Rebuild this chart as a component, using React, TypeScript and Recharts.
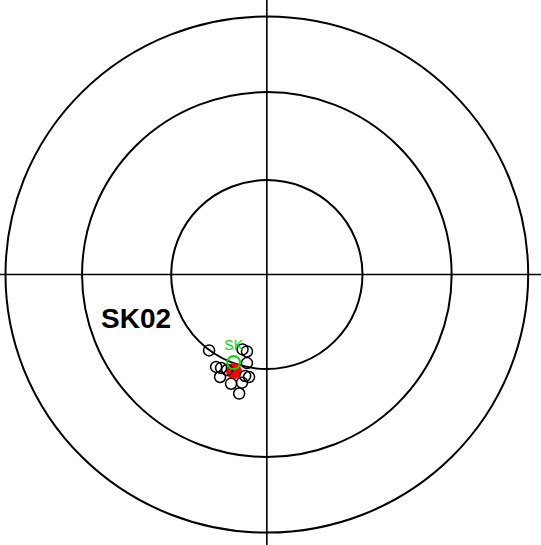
import React from "react";
import { ScatterChart, Scatter, XAxis, YAxis, ReferenceLine, ReferenceDot } from "recharts";

const W = 541;
const H = 545;
const X_DOMAIN: [number, number] = [-1.021, 1.049];
const Y_DOMAIN: [number, number] = [-1.048, 1.064];

// small circles of the net, by inclination (deg)
const gridInclinations = [60, 30, 0];

// specimen directions, equal-area coords (x east, y north, primitive = 1)
const specimenX = [-0.221, -0.093, -0.076, -0.076, -0.194, -0.175, -0.152, -0.179, -0.083, -0.068, -0.137, -0.095, -0.106];
const specimenY = [-0.294, -0.29, -0.298, -0.343, -0.358, -0.362, -0.37, -0.397, -0.393, -0.397, -0.423, -0.419, -0.461];

// site mean and reference direction
const meanX = [-0.126];
const meanY = [-0.374];
const refX = [-0.127];
const refY = [-0.341];
const refLabel = "SK";

const siteName = "SK02";
const siteLabelX = -0.6345;
const siteLabelY = -0.209;

const kx = W / (X_DOMAIN[1] - X_DOMAIN[0]);
const ky = H / (Y_DOMAIN[1] - Y_DOMAIN[0]);

// Lambert equal-area radius for an inclination
const eqArea = (inc: number) => Math.SQRT2 * Math.sin(((90 - inc) / 2) * (Math.PI / 180));

const specimens = specimenX.map((x, i) => ({ x, y: specimenY[i] }));
const mean = meanX.map((x, i) => ({ x, y: meanY[i] }));
const ref = refX.map((x, i) => ({ x, y: refY[i] }));

export default function App() {
  return (
    <div style={{ position: "absolute", left: 0, top: 0, width: W, height: H, background: "#fff" }}>
      <ScatterChart width={W} height={H} margin={{ top: 0, right: 0, bottom: 0, left: 0 }}>
        <XAxis type="number" dataKey="x" domain={X_DOMAIN} allowDataOverflow hide />
        <YAxis type="number" dataKey="y" domain={Y_DOMAIN} allowDataOverflow hide />
        {gridInclinations.map((inc) => (
          <ReferenceDot
            key={inc}
            x={0}
            y={0}
            shape={(p: any) => (
              <ellipse
                cx={p.cx}
                cy={p.cy}
                rx={eqArea(inc) * kx}
                ry={eqArea(inc) * ky}
                fill="none"
                stroke="#000"
                strokeWidth={2}
              />
            )}
          />
        ))}
        <ReferenceLine x={0} stroke="#000" strokeWidth={1.6} />
        <ReferenceLine y={0} stroke="#000" strokeWidth={1.6} />
        <ReferenceDot
          x={siteLabelX}
          y={siteLabelY}
          shape={(p: any) => (
            <text
              x={p.cx}
              y={p.cy}
              fontFamily="Liberation Sans, Arial, sans-serif"
              fontWeight="bold"
              fontSize={28}
              fill="#000"
            >
              {siteName}
            </text>
          )}
        />
        <Scatter
          data={mean}
          isAnimationActive={false}
          shape={(p: any) => <circle cx={p.cx} cy={p.cy} r={8} fill="#ff0000" stroke="none" />}
        />
        <Scatter
          data={specimens}
          isAnimationActive={false}
          shape={(p: any) => <circle cx={p.cx} cy={p.cy} r={5.5} fill="none" stroke="#000" strokeWidth={1.5} />}
        />
        <Scatter
          data={ref}
          isAnimationActive={false}
          shape={(p: any) => (
            <g>
              <circle cx={p.cx} cy={p.cy} r={6.5} fill="none" stroke="#00dd00" strokeWidth={2} />
              <text
                x={p.cx}
                y={p.cy - 13}
                textAnchor="middle"
                fontFamily="Liberation Sans, Arial, sans-serif"
                fontSize={14}
                fill="#00dd00"
              >
                {refLabel}
              </text>
            </g>
          )}
        />
      </ScatterChart>
    </div>
  );
}
